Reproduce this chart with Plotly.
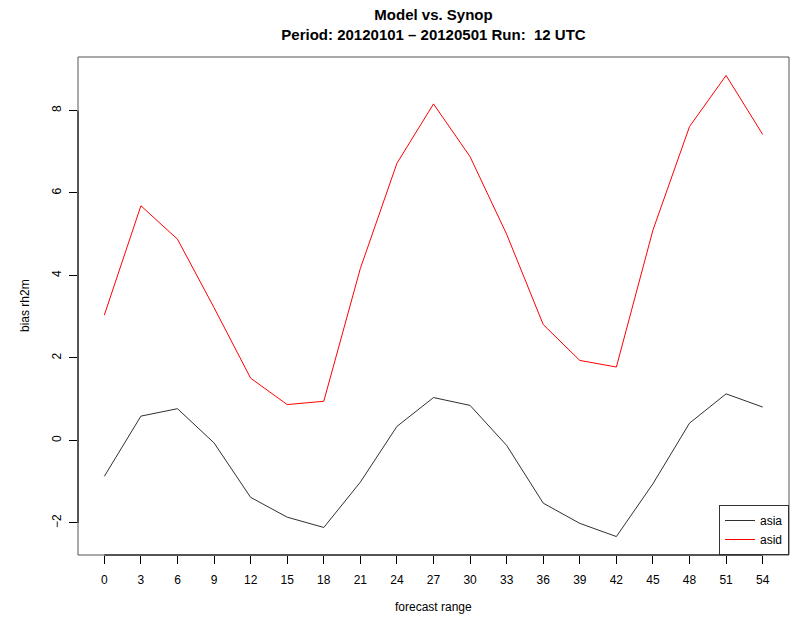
import plotly.graph_objects as go

forecast_range = [0, 3, 6, 9, 12, 15, 18, 21, 24, 27, 30, 33, 36, 39, 42, 45, 48, 51, 54]
asia = [-0.87, 0.59, 0.77, -0.06, -1.38, -1.86, -2.11, -1.01, 0.34, 1.04, 0.85, -0.12,
        -1.52, -2.01, -2.33, -1.05, 0.42, 1.13, 0.81]
asid = [3.04, 5.69, 4.88, 3.22, 1.51, 0.87, 0.95, 4.17, 6.72, 8.16, 6.88, 5.00,
        2.81, 1.94, 1.78, 5.10, 7.61, 8.85, 7.42]
y_ticks = [-2, 0, 2, 4, 6, 8]
x_ticks = forecast_range
title_lines = ["Model vs. Synop", "Period: 20120101 \u2013 20120501 Run: \u00a012 UTC"]

FONT = "Liberation Sans, Arial, Helvetica, sans-serif"

# R-style 4% axis extension
ymin = min(min(asia), min(asid))
ymax = max(max(asia), max(asid))
yr = ymax - ymin
xmin, xmax = min(forecast_range), max(forecast_range)
xr = xmax - xmin

fig = go.Figure()
fig.add_trace(go.Scatter(x=forecast_range, y=asia, mode="lines", name="asia",
                         line=dict(color="#303030", width=1)))
fig.add_trace(go.Scatter(x=forecast_range, y=asid, mode="lines", name="asid",
                         line=dict(color="#ff0000", width=1)))

fig.update_layout(
    width=794, height=621,
    margin=dict(l=78, r=5, t=57, b=66),
    paper_bgcolor="white", plot_bgcolor="white",
    font=dict(family=FONT, size=12, color="black"),
    title=dict(text="<b>" + title_lines[0] + "</b><br><b>" + title_lines[1] + "</b>",
               x=0.5, xref="paper", xanchor="center",
               y=1 - 20 / 621, yref="container", yanchor="middle",
               font=dict(family=FONT, size=15, color="black")),
    showlegend=True,
    legend=dict(x=1, y=0, xanchor="right", yanchor="bottom",
                bgcolor="white", bordercolor="#333", borderwidth=1,
                font=dict(family=FONT, size=12), tracegroupgap=0,
                itemwidth=30),
    xaxis=dict(range=[xmin - 0.04 * xr, xmax + 0.04 * xr],
               tickvals=x_ticks, ticktext=[str(v) for v in x_ticks],
               ticks="outside", ticklen=8, tickcolor="black", tickwidth=1,
               showgrid=False, zeroline=False, showline=False,
               ticklabelstandoff=6,
               tickfont=dict(family=FONT, size=12)),
    yaxis=dict(range=[ymin - 0.04 * yr, ymax + 0.04 * yr],
               tickvals=y_ticks, ticktext=[str(v).replace("-", "\u2212") for v in y_ticks],
               ticks="outside", ticklen=8, tickcolor="black", tickwidth=1,
               tickangle=-90,
               showgrid=False, zeroline=False, showline=False,
               ticklabelstandoff=3,
               tickfont=dict(family=FONT, size=12)),
    shapes=[
        dict(type="rect", xref="paper", yref="paper", x0=0, x1=1, y0=0, y1=1,
             line=dict(color="#555", width=1), layer="above"),
        dict(type="line", xref="x", yref="paper", x0=x_ticks[0], x1=x_ticks[-1], y0=0, y1=0,
             line=dict(color="black", width=1), layer="above"),
        dict(type="line", xref="paper", yref="y", x0=0, x1=0, y0=y_ticks[0], y1=y_ticks[-1],
             line=dict(color="black", width=1), layer="above"),
    ],
    annotations=[
        dict(text="bias rh2m", xref="paper", yref="paper", x=0, y=0.5,
             xanchor="center", yanchor="middle", xshift=-53, textangle=-90,
             showarrow=False, font=dict(family=FONT, size=12)),
        dict(text="forecast range", xref="paper", yref="paper", x=0.5, y=0,
             xanchor="center", yanchor="middle", yshift=-52,
             showarrow=False, font=dict(family=FONT, size=12)),
    ],
)

fig.write_html("out.html",
               config={"displayModeBar": False},
               post_script="document.body.style.margin='0';document.body.style.padding='0';")
